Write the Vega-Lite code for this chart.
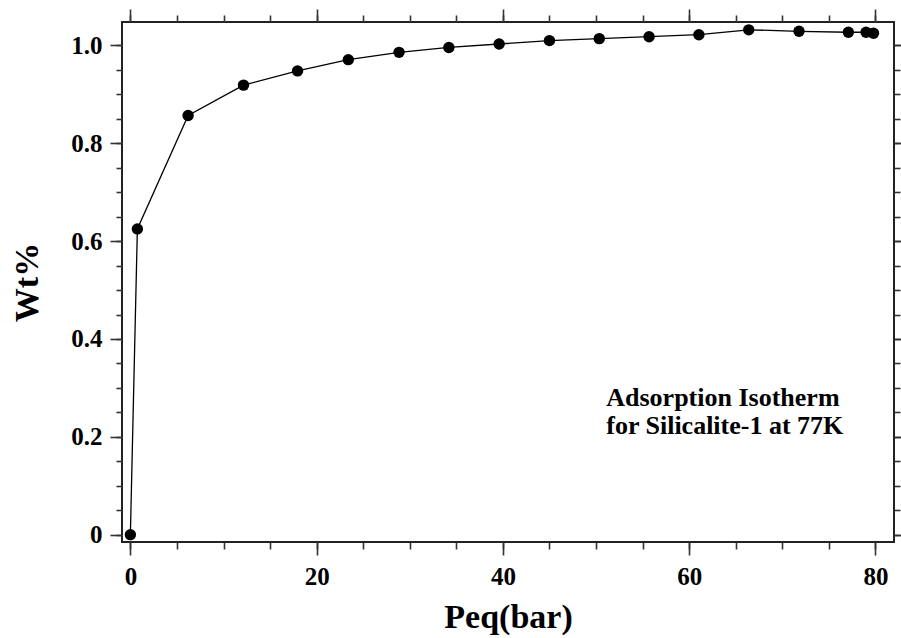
{
  "$schema": "https://vega.github.io/schema/vega-lite/v6.json",
  "width": 772,
  "height": 520,
  "autosize": "none",
  "padding": {"left": 122, "top": 22, "right": 7, "bottom": 96},
  "background": "white",
  "config": {
    "view": {"stroke": "#222", "strokeWidth": 2},
    "axis": {
      "domain": false,
      "grid": false,
      "tickColor": "#333",
      "tickWidth": 1.6,
      "labelFont": "Liberation Serif",
      "labelFontWeight": "bold",
      "labelFontSize": 25,
      "labelColor": "black",
      "titleFont": "Liberation Serif",
      "titleFontWeight": "bold",
      "titleFontSize": 34,
      "titleColor": "black"
    }
  },
  "datasets": {
    "iso": [
      {"p": 0, "wt": 0},
      {"p": 0.75, "wt": 0.625},
      {"p": 6.2, "wt": 0.857},
      {"p": 12.15, "wt": 0.919},
      {"p": 17.95, "wt": 0.948},
      {"p": 23.4, "wt": 0.971},
      {"p": 28.85, "wt": 0.986},
      {"p": 34.2, "wt": 0.996},
      {"p": 39.6, "wt": 1.003},
      {"p": 45.0, "wt": 1.010},
      {"p": 50.35, "wt": 1.014},
      {"p": 55.7, "wt": 1.018},
      {"p": 61.05, "wt": 1.022},
      {"p": 66.4, "wt": 1.032},
      {"p": 71.8, "wt": 1.029},
      {"p": 77.1, "wt": 1.027},
      {"p": 79.0, "wt": 1.027},
      {"p": 79.8, "wt": 1.025}
    ],
    "note": [
      {"p": 51.1, "wt": 0.262, "label": "Adsorption Isotherm\nfor Silicalite-1 at 77K"}
    ]
  },
  "layer": [
    {
      "data": {"name": "iso"},
      "mark": {"type": "line", "color": "black", "strokeWidth": 1.3},
      "encoding": {
        "x": {"field": "p", "type": "quantitative",
          "scale": {"domain": [-0.9, 82], "nice": false, "zero": false},
          "axis": {"orient": "bottom", "values": [0, 20, 40, 60, 80], "tickSize": 13, "labelPadding": 9, "title": "Peq(bar)", "titlePadding": 11}},
        "y": {"field": "wt", "type": "quantitative",
          "scale": {"domain": [-0.015, 1.048], "nice": false, "zero": false},
          "axis": {"orient": "left", "values": [0, 0.2, 0.4, 0.6, 0.8, 1.0], "tickSize": 12, "labelPadding": 8,
            "labelExpr": "datum.value == 0 ? '0' : format(datum.value, '.1f')", "title": "Wt%", "titlePadding": 26}}
      }
    },
    {
      "data": {"name": "iso"},
      "mark": {"type": "point", "filled": true, "color": "black", "opacity": 1, "size": 130},
      "encoding": {
        "x": {"field": "p", "type": "quantitative",
          "scale": {"domain": [-0.9, 82], "nice": false, "zero": false},
          "axis": {"orient": "bottom", "values": [0, 5, 10, 15, 20, 25, 30, 35, 40, 45, 50, 55, 60, 65, 70, 75, 80], "tickSize": 7, "labels": false, "title": null}},
        "y": {"field": "wt", "type": "quantitative",
          "scale": {"domain": [-0.015, 1.048], "nice": false, "zero": false},
          "axis": {"orient": "left", "values": [0, 0.05, 0.1, 0.15, 0.2, 0.25, 0.3, 0.35, 0.4, 0.45, 0.5, 0.55, 0.6, 0.65, 0.7, 0.75, 0.8, 0.85, 0.9, 0.95, 1.0], "tickSize": 6, "labels": false, "title": null}}
      }
    },
    {
      "data": {"name": "note"},
      "mark": {"type": "text", "align": "left", "baseline": "alphabetic", "font": "Liberation Serif", "fontWeight": "bold", "fontSize": 26, "lineBreak": "\n", "lineHeight": 28, "color": "black"},
      "encoding": {
        "x": {"field": "p", "type": "quantitative",
          "scale": {"domain": [-0.9, 82], "nice": false, "zero": false},
          "axis": {"orient": "top", "values": [0, 20, 40, 60, 80], "tickSize": 13, "labels": false, "title": null}},
        "y": {"field": "wt", "type": "quantitative",
          "scale": {"domain": [-0.015, 1.048], "nice": false, "zero": false},
          "axis": {"orient": "right", "values": [0, 0.2, 0.4, 0.6, 0.8, 1.0], "tickSize": 12, "labels": false, "title": null}},
        "text": {"field": "label", "type": "nominal"}
      }
    },
    {
      "data": {"name": "iso"},
      "mark": {"type": "point", "filled": true, "opacity": 0, "size": 1},
      "encoding": {
        "x": {"field": "p", "type": "quantitative",
          "scale": {"domain": [-0.9, 82], "nice": false, "zero": false},
          "axis": {"orient": "top", "values": [0, 5, 10, 15, 20, 25, 30, 35, 40, 45, 50, 55, 60, 65, 70, 75, 80], "tickSize": 7, "labels": false, "title": null}},
        "y": {"field": "wt", "type": "quantitative",
          "scale": {"domain": [-0.015, 1.048], "nice": false, "zero": false},
          "axis": {"orient": "right", "values": [0, 0.05, 0.1, 0.15, 0.2, 0.25, 0.3, 0.35, 0.4, 0.45, 0.5, 0.55, 0.6, 0.65, 0.7, 0.75, 0.8, 0.85, 0.9, 0.95, 1.0], "tickSize": 6, "labels": false, "title": null}}
      }
    }
  ],
  "resolve": {"axis": {"x": "independent", "y": "independent"}}
}
